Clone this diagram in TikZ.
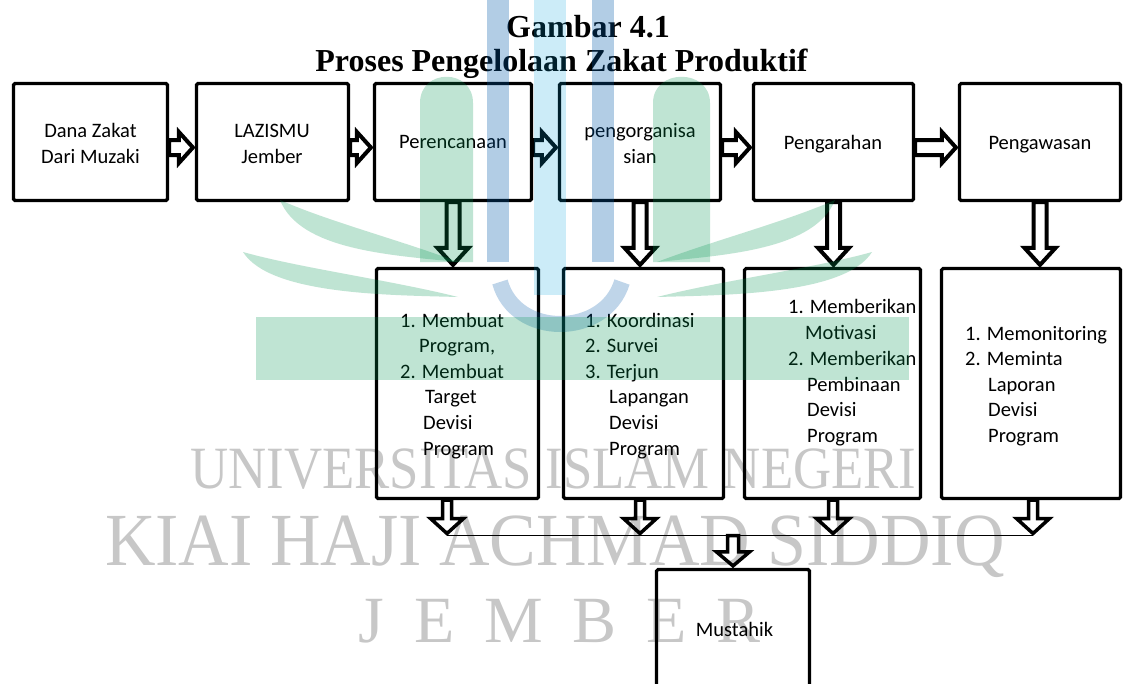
\documentclass[tikz,border=0pt]{standalone}
\usepackage{fontspec}
\setmainfont{Carlito}
\newfontfamily\seriffont{Liberation Serif}
\usetikzlibrary{calc}
\definecolor{wmgreen}{RGB}{0,150,80}
\definecolor{wmblue}{RGB}{0,90,170}
\definecolor{wmcyan}{RGB}{0,160,220}
\tikzset{
  box/.style={draw, line width=3.2pt, rounded corners=1.5pt, fill=white, inner sep=0pt},
  barrow/.style={draw, fill=white, line width=4pt, line join=miter},
  sarrow/.style={draw, fill=white, line width=3.5pt, line join=miter},
  lbl/.style={inner sep=0pt, font=\fontsize{20.5}{24}\selectfont},
  ttl/.style={inner sep=0pt, font=\seriffont\bfseries\fontsize{32}{36}\selectfont},
  wm/.style={inner sep=0pt, text=black, text opacity=0.22},
  joinline/.style={line width=1.6pt},
  wmfill/.style={fill=wmgreen, fill opacity=0.25},
}
% box from centre-line corners
\newcommand{\mkbox}[5]{\node[box, minimum width={#4-#2}, minimum height={#5-#3}] (#1) at ({(#2+#4)/2},{(#3+#5)/2}) {};}
% hollow block arrow pointing right
\newcommand{\rarrow}[6][barrow]{\draw[#1] let \p1=#2, \p2=#3 in
  (\x1,\y1+#4pt) -- (\x2-#6pt,\y1+#4pt) -- (\x2-#6pt,\y1+#5pt) -- (\x2-2pt,\y1)
  -- (\x2-#6pt,\y1-#5pt) -- (\x2-#6pt,\y1-#4pt) -- (\x1,\y1-#4pt) -- cycle;}
% hollow block arrow pointing down
\newcommand{\darrow}[6][barrow]{\draw[#1] let \p1=#2, \p2=#3 in
  (\x1-#4pt,\y1) -- (\x1-#4pt,\y2+#6pt) -- (\x1-#5pt,\y2+#6pt) -- (\x1,\y2+2pt)
  -- (\x1+#5pt,\y2+#6pt) -- (\x1+#4pt,\y2+#6pt) -- (\x1+#4pt,\y1) -- cycle;}
\begin{document}
\begin{tikzpicture}[x=1pt,y=-1pt]
\useasboundingbox (0,0) rectangle (1135,683);
\clip (0,0) rectangle (1135,683);
\fill[white] (0,0) rectangle (1135,683);

% title
\node[ttl, anchor=base] (title1) at (588,37.3) {Gambar 4.1};
\node[ttl, anchor=base] (title2) at (561.5,71.7) {Proses Pengelolaan Zakat Produktif};

% top row
\mkbox{b1}{13.5}{83.5}{167.5}{200.5}
\mkbox{b2}{196.5}{83.5}{348.5}{200.5}
\mkbox{b3}{374.5}{83.5}{531.5}{200.5}
\mkbox{b4}{559.5}{83.5}{720.5}{200.5}
\mkbox{b5}{753.5}{83.5}{913.5}{200.5}
\mkbox{b6}{959.5}{83.5}{1120.5}{200.5}
% second row
\mkbox{c1}{376.5}{268.5}{538.5}{498.5}
\mkbox{c2}{563.5}{268.5}{723.5}{498.5}
\mkbox{c3}{744.5}{268.5}{920.5}{498.5}
\mkbox{c4}{941.5}{268.5}{1120.5}{498.5}
% final box
\mkbox{mus}{656.5}{569.5}{809.5}{720}

% top row texts
\node[lbl, anchor=base] (b1t1) at (90.5,137) {Dana Zakat};
\node[lbl, anchor=base] (b1t2) at (90.5,163) {Dari Muzaki};
\node[lbl, anchor=base] (b2t1) at (272,137) {LAZISMU};
\node[lbl, anchor=base] (b2t2) at (272,163) {Jember};
\node[lbl, anchor=base] (b3t1) at (453,148.5) {Perencanaan};
\node[lbl, anchor=base] (b4t1) at (640,137) {pengorganisa};
\node[lbl, anchor=base] (b4t2) at (640,163) {sian};
\node[lbl, anchor=base] (b5t1) at (833,149) {Pengarahan};
\node[lbl, anchor=base] (b6t1) at (1040,149) {Pengawasan};

% second row texts
\foreach \t/\x/\y [count=\i] in {{1. Membuat}/400/327, {Program,}/419/352.6, {2. Membuat}/400/378.2,
    {Target}/425/403.8, {Devisi}/423/429.4, {Program}/423/455}
  \node[lbl, anchor=base west] (c1t\i) at (\x,\y) {\t};
\foreach \t/\x/\y [count=\i] in {{1. Koordinasi}/585/327, {2. Survei}/585/352.6, {3. Terjun}/585/378.2,
    {Lapangan}/609/403.8, {Devisi}/609/429.4, {Program}/609/455}
  \node[lbl, anchor=base west] (c2t\i) at (\x,\y) {\t};
\foreach \t/\x/\y [count=\i] in {{1. Memberikan}/788/313, {Motivasi}/805/339, {2. Memberikan}/788/365,
    {Pembinaan}/807/391, {Devisi}/807/416.5, {Program}/807/442}
  \node[lbl, anchor=base west] (c3t\i) at (\x,\y) {\t};
\foreach \t/\x/\y [count=\i] in {{1. Memonitoring}/965/340, {2. Meminta}/965/365.5,
    {Laporan}/988/391, {Devisi}/988/416.5, {Program}/988/442}
  \node[lbl, anchor=base west] (c4t\i) at (\x,\y) {\t};
\node[lbl, anchor=base] (must) at (734.5,636) {Mustahik};

% horizontal arrows
\rarrow{($(b1.east)+(0,5.5)$)}{($(b2.west)+(0,5.5)$)}{7.5}{15.5}{16}
\rarrow{($(b2.east)+(0,5.5)$)}{($(b3.west)+(0,5.5)$)}{7.5}{15.5}{16}
\rarrow{($(b3.east)+(0,5.5)$)}{($(b4.west)+(0,5.5)$)}{7.5}{15.5}{16}
\rarrow{($(b4.east)+(0,5.5)$)}{($(b5.west)+(0,5.5)$)}{7.5}{15.5}{16}
\rarrow{($(b5.east)+(0,5.5)$)}{($(b6.west)+(0,5.5)$)}{7.5}{15.5}{16}

% vertical arrows
\darrow{(b3.south)}{(c1.north)}{6.5}{15.5}{19}
\darrow{(b4.south)}{(c2.north)}{6.5}{15.5}{19}
\darrow{(b5.south)}{(c3.north)}{6.5}{15.5}{19}
\darrow{(b6.south)}{(c4.north)}{6.5}{15.5}{19}

% collecting line
\coordinate (j1) at (447,535.5);
\coordinate (j2) at (640,535.5);
\coordinate (j3) at (833,535.5);
\coordinate (j4) at (1033,535.5);
\coordinate (m1) at (733,535.5);
\draw[joinline] (j1) -- (j4);
\darrow[sarrow]{(c1.south -| j1)}{(j1)}{4.5}{16.5}{17}
\darrow[sarrow]{(c2.south -| j2)}{(j2)}{4.5}{16.5}{17}
\darrow[sarrow]{(c3.south -| j3)}{(j3)}{4.5}{16.5}{17}
\darrow[sarrow]{(c4.south -| j4)}{(j4)}{4.5}{16.5}{17}
\darrow[sarrow]{(m1)}{(mus.north -| m1)}{5.5}{16.5}{16}

% watermark (logo)
\fill[wmblue, fill opacity=0.3] (487,-5) rectangle (509,262);
\fill[wmcyan, fill opacity=0.2] (534,-5) rectangle (566,295);
\fill[wmblue, fill opacity=0.3] (592,-5) rectangle (614,262);
\draw[wmblue, draw opacity=0.25, line width=16pt] (500,282) .. controls (515,338) and (605,338) .. (622,282);
\fill[wmfill] (420,262) -- (420,103) .. controls (420,68) and (473,68) .. (473,103) -- (473,262) -- cycle;
\fill[wmfill] (653,262) -- (653,103) .. controls (653,68) and (710,68) .. (710,103) -- (710,262) -- cycle;
\fill[wmfill] (280,200) .. controls (300,250) and (390,255) .. (458,262) .. controls (400,240) and (330,222) .. (280,200) -- cycle;
\fill[wmfill] (243,252) .. controls (270,295) and (390,295) .. (458,297) .. controls (390,280) and (300,268) .. (243,252) -- cycle;
\fill[wmfill] (835,200) .. controls (815,250) and (725,255) .. (657,262) .. controls (715,240) and (785,222) .. (835,200) -- cycle;
\fill[wmfill] (872,252) .. controls (845,295) and (725,295) .. (657,297) .. controls (725,280) and (815,268) .. (872,252) -- cycle;
\fill[wmfill] (256,317) -- (909,317) -- (909,380) -- (256,380) -- cycle;

% watermark (text)
\node[wm, anchor=base, font=\seriffont\fontsize{60}{60}\selectfont] (wm1) at (553.5,488)
  {\scalebox{0.88}[1]{UNIVERSITAS ISLAM NEGERI}};
\node[wm, anchor=base, font=\seriffont\fontsize{75}{75}\selectfont] (wm2) at (555,565)
  {\scalebox{0.933}[1]{KIAI HAJI ACHMAD SIDDIQ}};
\node[wm, anchor=base, font=\seriffont\fontsize{66}{66}\selectfont] (wm3) at (559.5,642)
  {J\hspace{0.45em}E\hspace{0.45em}M\hspace{0.45em}B\hspace{0.45em}E\hspace{0.45em}R};
\end{tikzpicture}
\end{document}
